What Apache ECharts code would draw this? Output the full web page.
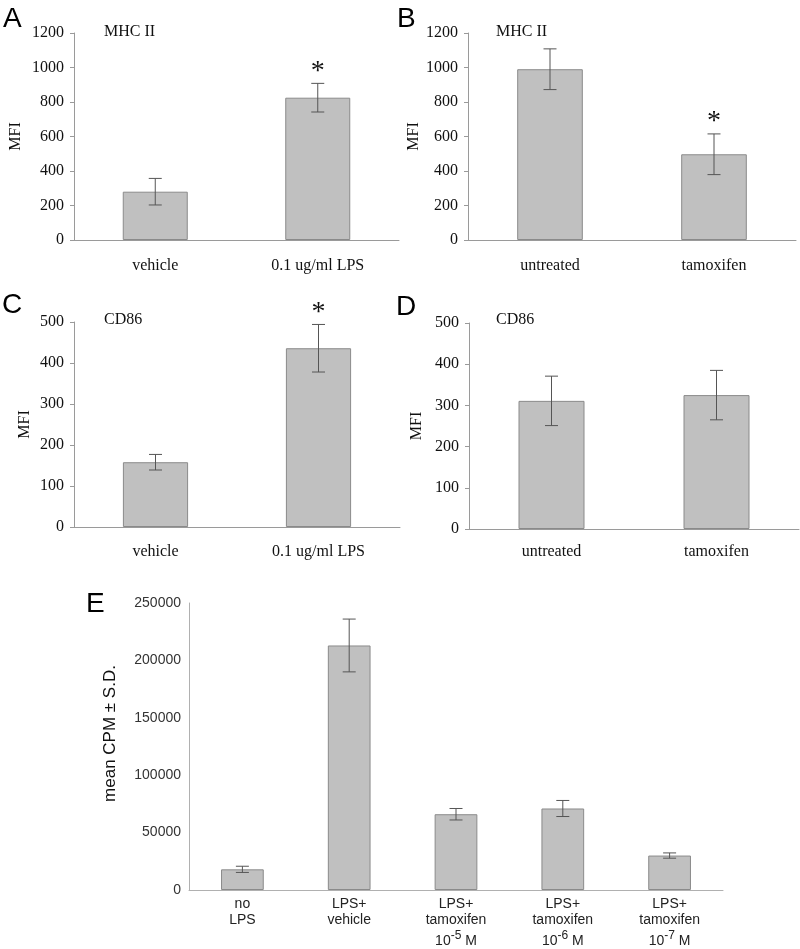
<!DOCTYPE html>
<html>
<head>
<meta charset="utf-8">
<script src="https://cdn.jsdelivr.net/npm/echarts@6/dist/echarts.min.js"></script>
<style>
  html, body { margin: 0; padding: 0; background: #fff; }
  #main { width: 800px; height: 949px; }
</style>
</head>
<body>
<div id="main"></div>
<script>
// categories
var catsAC = ['vehicle', '0.1 ug/ml LPS'];
var catsBD = ['untreated', 'tamoxifen'];
var catsE = ['no\nLPS', 'LPS+\nvehicle', 'LPS+\ntamoxifen\n10-5 M', 'LPS+\ntamoxifen\n10-6 M', 'LPS+\ntamoxifen\n10-7 M'];

// means, error (+/-) and significance marks
var meanA = [280, 825];
var errA = [77, 83];
var sigA = [0, 1];

var meanB = [990, 497];
var errB = [118, 118];
var sigB = [0, 1];

var meanC = [158, 436];
var errC = [19, 58];
var sigC = [0, 1];

var meanD = [311, 325];
var errD = [60, 60];
var sigD = [0, 0];

var meanE = [18000, 213000, 66000, 71000, 30000];
var errE = [2700, 23000, 5000, 7000, 2300];
var sigE = [0, 0, 0, 0, 0];

var serif = 'Liberation Serif';
var sans = 'Liberation Sans';
var axisCol = '#9a9a9a';

var chart = echarts.init(document.getElementById('main'));

function errItem(params, api) {
  var i = api.value(0), m = api.value(1), e = api.value(2);
  var top = api.coord([i, m + e]);
  var bot = api.coord([i, m - e]);
  var hw = 6.5;
  var st = { stroke: '#555', lineWidth: 1 };
  var kids = [
    { type: 'line', shape: { x1: top[0], y1: top[1], x2: bot[0], y2: bot[1] }, style: st },
    { type: 'line', shape: { x1: top[0] - hw, y1: top[1], x2: top[0] + hw, y2: top[1] }, style: st },
    { type: 'line', shape: { x1: bot[0] - hw, y1: bot[1], x2: bot[0] + hw, y2: bot[1] }, style: st }
  ];
  if (api.value(3)) {
    kids.push({
      type: 'text',
      style: { text: '*', x: top[0], y: top[1] + 2, align: 'center', verticalAlign: 'bottom',
               font: '28px ' + serif, fill: '#111' }
    });
  }
  return { type: 'group', children: kids };
}

function pack(mean, err, sig) {
  return mean.map(function (m, i) { return [i, m, err[i], sig[i]]; });
}

var serifX = { fontFamily: serif, fontSize: 16, color: '#111' };

function xAx(idx, cats, margin) {
  return {
    type: 'category', gridIndex: idx, data: cats,
    axisLine: { lineStyle: { color: axisCol } },
    axisTick: { length: 4, lineStyle: { color: axisCol } },
    axisLabel: Object.assign({ margin: margin, interval: 0 }, serifX)
  };
}

function yAx(idx, max, step, gap) {
  return {
    type: 'value', gridIndex: idx, min: 0, max: max, interval: step,
    name: 'MFI', nameLocation: 'middle', nameGap: gap,
    nameTextStyle: { fontFamily: serif, fontSize: 16, color: '#111' },
    axisLine: { show: true, lineStyle: { color: axisCol } },
    axisTick: { show: true, length: 4, lineStyle: { color: axisCol } },
    splitLine: { show: false },
    axisLabel: { margin: 10, fontFamily: serif, fontSize: 16, color: '#111',
                 formatter: function (v) { return String(v); } }
  };
}

var barStyle = { color: '#c0c0c0', borderColor: '#8a8a8a', borderWidth: 1 };

function bars(idx, mean) {
  return { type: 'bar', xAxisIndex: idx, yAxisIndex: idx, data: mean, barWidth: '40%',
           itemStyle: barStyle, silent: true };
}
function errs(idx, mean, err, sig) {
  return { type: 'custom', xAxisIndex: idx, yAxisIndex: idx, data: pack(mean, err, sig),
           renderItem: errItem, encode: { x: 0, y: 1 }, z: 5, silent: true };
}

var letter = function (t, x, y) {
  return { type: 'text', left: x, top: y, style: { text: t, font: '28px ' + sans, fill: '#000' } };
};
var panelTitle = function (t, x, y) {
  return { type: 'text', left: x, top: y, style: { text: t, font: '16px ' + serif, fill: '#111' } };
};

function grid(l, t, w, h) {
  return { left: l, top: t, width: w, height: h, outerBoundsMode: 'none', containLabel: false };
}

var option = {
  animation: false,
  backgroundColor: '#fff',
  grid: [
    grid(74, 33, 325, 207),
    grid(468, 33, 328, 207),
    grid(74, 322, 326, 205),
    grid(469, 323, 330, 206),
    grid(189, 603, 534, 287)
  ],
  xAxis: [
    xAx(0, catsAC, 18),
    xAx(1, catsBD, 18),
    xAx(2, catsAC, 17),
    xAx(3, catsBD, 15),
    {
      type: 'category', gridIndex: 4, data: catsE,
      axisLine: { lineStyle: { color: '#b0b0b0' } },
      axisTick: { length: 3, lineStyle: { color: '#b0b0b0' } },
      axisLabel: {
        interval: 0, margin: 6, fontFamily: sans, fontSize: 14, color: '#222', lineHeight: 16,
        formatter: function (v) {
          var p = v.split('\n');
          var s = '{t|' + p[0] + '}\n{t|' + p[1] + '}';
          if (p[2]) {
            var m = p[2].match(/^10(-\d) M$/);
            s += '\n{b|10}{sup|' + m[1] + '}{b| M}';
          }
          return s;
        },
        rich: {
          t: { fontFamily: sans, fontSize: 14, color: '#222', lineHeight: 16 },
          b: { fontFamily: sans, fontSize: 14, color: '#222', lineHeight: 26 },
          sup: { fontFamily: sans, fontSize: 12, color: '#222', lineHeight: 12, padding: [0, 0, 10, 0] }
        }
      }
    }
  ],
  yAxis: [
    yAx(0, 1200, 200, 50),
    yAx(1, 1200, 200, 45),
    yAx(2, 500, 100, 41),
    yAx(3, 500, 100, 44),
    {
      type: 'value', gridIndex: 4, min: 0, max: 250000, interval: 50000,
      name: 'mean CPM \u00b1 S.D.', nameLocation: 'middle', nameGap: 70,
      nameTextStyle: { fontFamily: sans, fontSize: 17, color: '#111', padding: [0, 0, 0, 26] },
      axisLine: { show: true, lineStyle: { color: '#b0b0b0' } },
      axisTick: { show: false },
      splitLine: { show: false },
      axisLabel: { margin: 8, fontFamily: sans, fontSize: 14, color: '#333',
                   formatter: function (v) { return String(v); } }
    }
  ],
  series: [
    bars(0, meanA), errs(0, meanA, errA, sigA),
    bars(1, meanB), errs(1, meanB, errB, sigB),
    bars(2, meanC), errs(2, meanC, errC, sigC),
    bars(3, meanD), errs(3, meanD, errD, sigD),
    bars(4, meanE), errs(4, meanE, errE, sigE)
  ],
  graphic: [
    letter('A', 3, 5), letter('B', 397, 5), letter('C', 2, 291), letter('D', 396, 293), letter('E', 86, 590),
    panelTitle('MHC II', 104, 24), panelTitle('MHC II', 496, 24),
    panelTitle('CD86', 104, 312), panelTitle('CD86', 496, 312)
  ]
};

chart.setOption(option);
</script>
</body>
</html>
